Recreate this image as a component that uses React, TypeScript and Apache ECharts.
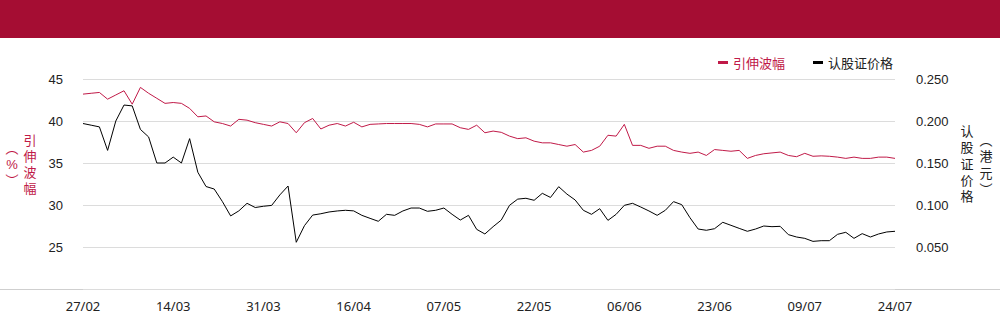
import React, { useEffect, useRef } from "react";
import * as echarts from "echarts";

const dates: string[] = [
  "27/02","28/02","03/03","04/03","05/03","06/03","07/03","10/03","11/03","12/03","13/03","14/03",
  "17/03","18/03","19/03","20/03","21/03","24/03","25/03","26/03","27/03","28/03","31/03",
  "01/04","02/04","03/04","07/04","08/04","09/04","10/04","11/04","14/04","15/04","16/04",
  "17/04","22/04","23/04","24/04","25/04","28/04","29/04","30/04","02/05","06/05","07/05",
  "08/05","09/05","12/05","13/05","14/05","15/05","16/05","19/05","20/05","21/05","22/05",
  "23/05","26/05","27/05","28/05","29/05","30/05","02/06","03/06","04/06","05/06","06/06",
  "09/06","10/06","11/06","12/06","13/06","16/06","17/06","18/06","19/06","20/06","23/06",
  "24/06","25/06","26/06","27/06","30/06","02/07","03/07","04/07","07/07","08/07","09/07",
  "10/07","11/07","14/07","15/07","16/07","17/07","18/07","21/07","22/07","23/07","24/07",
];

const impliedVol: number[] = [
  43.2, 43.3, 43.4, 42.6, 43.1, 43.6, 42.0, 44.0, 43.3, 42.7,
  42.1, 42.2, 42.1, 41.5, 40.5, 40.6, 39.9, 39.7, 39.4, 40.2,
  40.1, 39.8, 39.6, 39.4, 39.9, 39.7, 38.6, 39.8, 40.3, 39.05,
  39.5, 39.7, 39.4, 39.85, 39.3, 39.6, 39.65, 39.7, 39.7, 39.7,
  39.7, 39.6, 39.3, 39.65, 39.65, 39.65, 39.2, 39.0, 39.5, 38.6,
  38.8, 38.65, 38.2, 37.9, 38.0, 37.6, 37.4, 37.4, 37.2, 37.0,
  37.2, 36.3, 36.5, 37.0, 38.3, 38.2, 39.6, 37.1, 37.1, 36.75,
  37.0, 37.0, 36.5, 36.3, 36.15, 36.3, 35.9, 36.6, 36.5, 36.4,
  36.5, 35.55, 35.9, 36.1, 36.2, 36.3, 35.9, 35.75, 36.15, 35.8,
  35.85, 35.8, 35.7, 35.55, 35.7, 35.55, 35.55, 35.7, 35.7, 35.55,
];

const warrantPrice: number[] = [
  0.197, 0.195, 0.193, 0.165, 0.200, 0.219, 0.218, 0.190, 0.181, 0.150,
  0.150, 0.157, 0.150, 0.179, 0.139, 0.122, 0.119, 0.104, 0.087, 0.093,
  0.102, 0.097, 0.0985, 0.0995, 0.112, 0.1226, 0.0556, 0.0754, 0.088, 0.0896,
  0.0917, 0.0929, 0.0937, 0.093, 0.0877, 0.0841, 0.0806, 0.0889, 0.0877, 0.0929,
  0.0964, 0.0964, 0.0925, 0.0937, 0.0964, 0.0889, 0.0821, 0.0877, 0.071, 0.0655,
  0.0742, 0.0821, 0.0996, 0.107, 0.108, 0.1056, 0.1139, 0.109, 0.1218, 0.113,
  0.106, 0.0937, 0.0889, 0.0956, 0.0817, 0.0889, 0.0996, 0.102, 0.0976, 0.0929,
  0.0877, 0.0937, 0.104, 0.1004, 0.0849, 0.0714, 0.0699, 0.0718, 0.0794, 0.0758,
  0.0722, 0.0687, 0.0714, 0.075, 0.0742, 0.0746, 0.0647, 0.0619, 0.0603, 0.0567,
  0.0575, 0.0575, 0.0651, 0.0675, 0.0603, 0.0659, 0.0619, 0.0655, 0.0679, 0.0687,
];

const seriesNames = ["引伸波幅", "认股证价格"];
const RED = "#c01a48";
const BANNER = "#a50d33";

export default function App() {
  const ref = useRef<HTMLDivElement>(null);
  useEffect(() => {
    document.body.style.margin = "0";
    if (!ref.current) return;
    const chart = echarts.init(ref.current, undefined, { renderer: "svg" });
    const labelFont = "'Liberation Sans', Arial, sans-serif";
    const cjk = "'Noto Sans CJK SC', sans-serif";
    const vFont = "'Liberation Sans', 'Noto Sans CJK SC', sans-serif";
    chart.setOption({
      animation: false,
      backgroundColor: "#fff",
      grid: { left: 83, right: 105, top: 79, bottom: 35 },
      legend: {
        left: 713,
        top: 51,
        icon: "rect",
        itemWidth: 10,
        itemHeight: 3,
        itemGap: 28,
        textStyle: { fontSize: 13, fontFamily: cjk },
        data: [
          { name: seriesNames[0], textStyle: { color: RED } },
          { name: seriesNames[1], textStyle: { color: "#222" } },
        ],
      },
      xAxis: {
        type: "category",
        data: dates,
        boundaryGap: false,
        axisLine: { show: false },
        axisTick: { show: false },
        axisLabel: {
          interval: 10,
          margin: 10,
          fontSize: 13,
          color: "#222",
          fontFamily: "'Noto Sans', sans-serif",
        },
      },
      yAxis: [
        {
          type: "value",
          min: 20,
          max: 45,
          interval: 5,
          axisLine: { show: false },
          axisTick: { show: false },
          splitLine: { lineStyle: { color: "#dcdcdc", width: 1 } },
          axisLabel: {
            showMinLabel: false,
            margin: 20,
            fontSize: 13,
            color: "#222",
            fontFamily: labelFont,
          },
        },
        {
          type: "value",
          min: 0,
          max: 0.25,
          interval: 0.05,
          axisLine: { show: false },
          axisTick: { show: false },
          splitLine: { show: false },
          axisLabel: {
            showMinLabel: false,
            margin: 21,
            fontSize: 13,
            color: "#222",
            fontFamily: labelFont,
            formatter: (v: number) => v.toFixed(3),
          },
        },
      ],
      series: [
        {
          name: seriesNames[0],
          type: "line",
          yAxisIndex: 0,
          data: impliedVol,
          showSymbol: false,
          symbol: "none",
          color: RED,
          lineStyle: { color: RED, width: 1 },
        },
        {
          name: seriesNames[1],
          type: "line",
          yAxisIndex: 1,
          data: warrantPrice,
          showSymbol: false,
          symbol: "none",
          color: "#000",
          lineStyle: { color: "#000", width: 1 },
        },
      ],
      graphic: [
        { type: "rect", left: 0, top: 0, shape: { x: 0, y: 0, width: 1000, height: 38 }, style: { fill: BANNER } },
        { type: "line", shape: { x1: 0, y1: 289.5, x2: 1000, y2: 289.5 }, style: { stroke: "#cfcfcf", lineWidth: 1 } },
        {
          type: "text",
          x: 30,
          y: 132,
          style: {
            text: "引\n伸\n波\n幅",
            fill: RED,
            fontSize: 13,
            lineHeight: 16,
            align: "center",
            fontFamily: vFont,
          },
        },
        {
          type: "text",
          x: 12,
          y: 140,
          style: {
            text: "︵\n%\n︶",
            fill: RED,
            fontSize: 13,
            lineHeight: 16,
            align: "center",
            fontFamily: vFont,
          },
        },
        {
          type: "text",
          x: 967,
          y: 123,
          style: {
            text: "认\n股\n证\n价\n格",
            fill: "#222",
            fontSize: 13,
            lineHeight: 16.4,
            align: "center",
            fontFamily: vFont,
          },
        },
        {
          type: "text",
          x: 986,
          y: 132,
          style: {
            text: "︵\n港\n元\n︶",
            fill: "#222",
            fontSize: 13,
            lineHeight: 16.4,
            align: "center",
            fontFamily: vFont,
          },
        },
      ],
    });
    return () => chart.dispose();
  }, []);
  return <div ref={ref} style={{ width: 1000, height: 324 }} />;
}
